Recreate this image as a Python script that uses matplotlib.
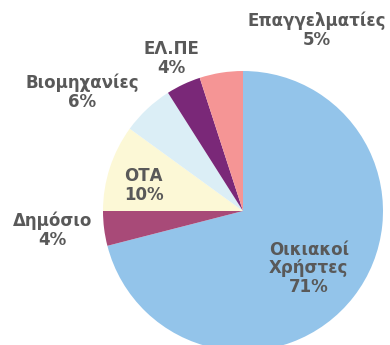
import matplotlib.pyplot as plt

# Share of consumption per user category
categories = ['Οικιακοί\nΧρήστες', 'Δημόσιο', 'ΟΤΑ', 'Βιομηχανίες', 'ΕΛ.ΠΕ', 'Επαγγελματίες']
shares = [71, 4, 10, 6, 4, 5]
colors = ['#93C4EA', '#A84A78', '#FCF8D6', '#DBEEF6', '#7A2878', '#F59595']

# label anchor points (in pie radius units)
label_pos = [(0.47, -0.41), (-1.36, -0.14), (-0.71, 0.18),
             (-1.15, 0.85), (-0.51, 1.09), (0.53, 1.29)]

fig = plt.figure(figsize=(3.9, 3.45), dpi=100)
ax = fig.add_axes([103 / 390, -6 / 345, 280 / 390, 280 / 345])

ax.pie(shares, colors=colors, startangle=90, counterclock=False,
       radius=1, wedgeprops=dict(linewidth=0))
ax.set_xlim(-1, 1)
ax.set_ylim(-1, 1)
ax.set_aspect('equal')
ax.axis('off')

for name, val, (x, y) in zip(categories, shares, label_pos):
    ax.text(x, y, f"{name}\n{val}%", ha='center', va='center',
            fontsize=12, fontweight='bold', color='#595959',
            family='DejaVu Sans', linespacing=1.05, clip_on=False)

fig.savefig('out.png', dpi=100)
